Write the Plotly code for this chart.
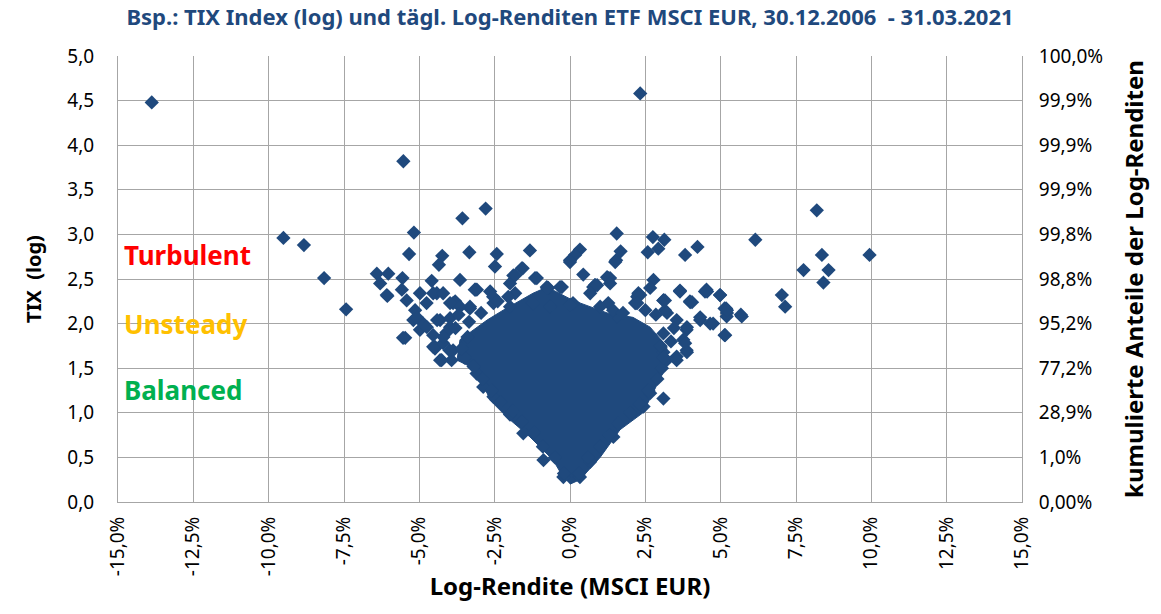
import plotly.graph_objects as go

# ---- data ----
# sparse daily observations: log-return in %, TIX (log)
obs_x = [-13.88, 2.33, -5.53, -3.57, -2.80, -5.18, -9.51, -8.83, -8.16, -7.43, -5.34, -4.24, -4.35,
         -3.34, -2.43, -2.49, -1.33, 0.33, 0.17, 0.00, 0.44, -6.41, -6.03, -6.30, -5.56, -6.06, -5.58,
         -4.59, -3.65, -3.13, -1.60, -1.16, -0.77, -0.27, -1.88,
         8.19, 6.15, 9.94, 8.36, 7.75, 8.58, 8.41, 7.03, 7.14, 1.55, 2.75, 3.13, 2.93, 2.58, 3.82, 4.23,
         1.68, 1.53, 1.27, 2.77, 2.66, 3.65, 4.53, 4.98, 3.99, 5.18, 5.67, 2.27, 2.19, 0.83,
         -5.47, -6.08, -5.42, -4.98, -4.42, -4.76, -5.14, -5.20, -4.98, -4.54, -4.48, -4.26, -3.93,
         -3.09, -3.81, -4.31, -3.98, -3.32, -2.65, -2.54, -1.99, -1.82, -1.57, -1.82, -1.10, -0.72,
         0.00, 0.83, 1.33, 1.50, 1.27, 1.55, 2.27, 2.16, 3.10, 3.65, 3.98, 4.48, 4.98, 4.32, 4.65,
         5.13, 5.20, 5.70, 5.13, 3.87, 3.76, 3.87, 3.54, 3.54, 3.10, 3.10, 3.21, 2.44, 2.66, 1.44,
         0.67, 0.33, -0.22, -0.88, -1.55, -1.99, -2.54, -2.88, -3.10, -4.31, -4.48,
         -4.54, -3.88, -3.32, -2.55, -1.99, -1.23, -0.66, 0.10, 0.67,
         -0.33, 0.77, 1.23, 1.00, 1.43, 2.23, 3.10, 3.15, 4.32, 5.21,
         -4.54, -4.87, -5.08, -4.41, -4.21, -3.16, -3.98, -3.65, -5.54, -4.75, -3.98, -4.21, -3.88,
         4.05, 4.55, 5.21, 5.15, 4.75, 3.88, 3.82, 3.88, 3.54, 3.10, 2.33, 2.23, 3.15, 3.22, 1.76,
         1.33, 0.90, 0.00, -0.76,
         -0.20, -0.50, -0.90, -1.20, -1.60, -1.90, -2.30, -2.60, -2.90, -3.20, -3.50, -3.60,
         0.30, 0.60, 1.00, 1.30, 1.60, 2.00, 2.30, 2.60, 2.90, 3.05, 3.10, 3.00,
         -4.10, -3.80, -4.00, -3.40, -3.70, -4.20, -2.95, -3.35, -2.40, -2.05, 2.85, 2.50, 3.35, 3.45]
obs_y = [4.48, 4.58, 3.82, 3.18, 3.29, 3.02, 2.96, 2.88, 2.51, 2.16, 2.78, 2.76, 2.66,
         2.80, 2.78, 2.64, 2.82, 2.83, 2.77, 2.71, 2.55, 2.56, 2.56, 2.45, 2.51, 2.31, 2.38,
         2.48, 2.49, 2.38, 2.62, 2.51, 2.41, 2.41, 2.54,
         3.27, 2.94, 2.77, 2.77, 2.60, 2.60, 2.46, 2.32, 2.19, 3.01, 2.97, 2.94, 2.84, 2.80, 2.77, 2.86,
         2.81, 2.71, 2.51, 2.49, 2.40, 2.37, 2.38, 2.32, 2.24, 2.17, 2.10, 2.32, 2.23, 2.43,
         1.84, 2.32, 2.26, 2.34, 2.34, 2.23, 2.15, 2.04, 1.93, 1.87, 1.74, 1.59, 1.59,
         2.38, 2.25, 2.04, 2.06, 2.17, 2.36, 2.23, 2.45, 2.54, 2.62, 2.34, 2.51, 2.40,
         2.69, 2.43, 2.51, 2.69, 2.23, 2.08, 2.34, 2.23, 2.26, 2.36, 2.25, 2.36, 2.32, 2.04, 2.00,
         2.17, 2.08, 2.08, 1.87, 1.93, 1.82, 1.70, 1.63, 2.04, 1.16, 1.89, 1.59, 1.07, 1.22, 0.73,
         0.45, 0.28, 0.28, 0.47, 0.77, 0.98, 1.18, 1.29, 1.44, 1.59, 1.72,
         2.34, 2.23, 2.19, 2.30, 2.19, 2.23, 2.19, 2.23, 2.34,
         2.41, 2.41, 2.52, 2.19, 2.15, 2.30, 2.26, 2.15, 2.07, 2.12,
         1.74, 2.00, 2.07, 2.04, 2.34, 2.38, 2.23, 2.19, 1.84, 1.96, 1.96, 1.78, 1.70,
         2.24, 2.36, 2.15, 1.87, 2.00, 1.96, 1.78, 1.68, 1.59, 1.68, 2.32, 2.23, 2.26, 2.12, 2.12,
         2.45, 2.43, 2.21, 2.40,
         0.32, 0.50, 0.62, 0.78, 0.90, 1.02, 1.12, 1.25, 1.38, 1.52, 1.62, 1.72,
         0.32, 0.50, 0.62, 0.75, 0.88, 1.00, 1.10, 1.25, 1.38, 1.50, 1.62, 1.75,
         1.90, 1.95, 1.70, 1.85, 2.10, 1.85, 2.12, 2.02, 2.25, 2.30, 2.10, 2.15, 1.80, 1.95]

# outline of the densely packed core of observations (thousands of overlapping points)
core_x = [0.00, 0.33, 1.00, 1.66, 2.42, 3.09, 3.22, 2.66, 2.09, 1.23, 0.10, -0.76, -1.23, -1.66,
          -2.22, -2.75, -3.65, -3.75, -3.08, -2.65, -2.09, -1.33, -0.56, -0.23]
core_y = [0.20, 0.25, 0.50, 0.81, 1.00, 1.45, 1.74, 1.96, 2.07, 2.12, 2.26, 2.41, 2.34, 2.26,
          2.15, 2.04, 1.82, 1.59, 1.48, 1.14, 0.95, 0.73, 0.47, 0.28]

x_tickvals = [-15, -12.5, -10, -7.5, -5, -2.5, 0, 2.5, 5, 7.5, 10, 12.5, 15]
x_ticktext = ["-15,0%", "-12,5%", "-10,0%", "-7,5%", "-5,0%", "-2,5%", "0,0%",
              "2,5%", "5,0%", "7,5%", "10,0%", "12,5%", "15,0%"]
y_tickvals = [0, 0.5, 1, 1.5, 2, 2.5, 3, 3.5, 4, 4.5, 5]
y_ticktext = ["0,0", "0,5", "1,0", "1,5", "2,0", "2,5", "3,0", "3,5", "4,0", "4,5", "5,0"]
y2_ticktext = ["0,00%", "1,0%", "28,9%", "77,2%", "95,2%", "98,8%", "99,8%",
               "99,9%", "99,9%", "99,9%", "100,0%"]

regimes = ["Turbulent", "Unsteady", "Balanced"]
regime_y = [2.77, 2.0, 1.26]
regime_colors = ["#FF0000", "#FFC000", "#00B050"]

BLUE = "#1F497D"
GRID = "#A6A6A6"
TICKFONT = dict(family="Noto Sans", size=19, color="#000000")
TITLEFONT = dict(family="Noto Sans", size=24, color="#000000")

fig = go.Figure()
fig.add_trace(go.Scatter(x=core_x, y=core_y, mode="lines", fill="toself",
                         fillcolor=BLUE, line=dict(color=BLUE, width=1),
                         hoverinfo="skip", showlegend=False))
fig.add_trace(go.Scatter(x=obs_x, y=obs_y, mode="markers",
                         marker=dict(symbol="diamond", size=11, color=BLUE,
                                     line=dict(width=0)),
                         showlegend=False))
# secondary axis carrier (invisible)
fig.add_trace(go.Scatter(x=[0], y=[0], yaxis="y2", mode="markers",
                         marker=dict(opacity=0), hoverinfo="skip", showlegend=False))

for name, yv, col in zip(regimes, regime_y, regime_colors):
    fig.add_annotation(x=0.004, xref="paper", y=yv, yref="y", text="<b>%s</b>" % name,
                       showarrow=False, xanchor="left", yanchor="middle",
                       font=dict(family="Noto Sans", size=26, color=col))

fig.update_layout(
    width=1161, height=614,
    margin=dict(l=118, r=139, t=56, b=112),
    paper_bgcolor="white", plot_bgcolor="white",
    title=dict(text="<b>Bsp.: TIX Index (log) und tägl. Log-Renditen ETF MSCI EUR, 30.12.2006  - 31.03.2021</b>",
               xref="paper", x=0.5, xanchor="center", y=0.972, yanchor="middle",
               font=dict(family="Noto Sans", size=22, color="#1F497D")),
    xaxis=dict(range=[-15, 15], tickvals=x_tickvals, ticktext=x_ticktext, tickangle=-90,
               showgrid=True, gridcolor=GRID, gridwidth=1, zeroline=False,
               showline=True, linecolor=GRID, linewidth=1, mirror=False,
               tickfont=TICKFONT, ticklabelstandoff=6,
               title=dict(text="<b>Log-Rendite (MSCI EUR)</b>", standoff=2, font=TITLEFONT)),
    yaxis=dict(range=[0, 5], tickvals=y_tickvals, ticktext=y_ticktext,
               showgrid=True, gridcolor=GRID, gridwidth=1, zeroline=False,
               showline=True, linecolor=GRID, linewidth=1,
               tickfont=TICKFONT, ticklabelstandoff=19,
               title=dict(text="<b>TIX  (log)</b>", standoff=20,
                          font=dict(family="Noto Sans", size=20, color="#000000"))),
    yaxis2=dict(range=[0, 5], tickvals=y_tickvals, ticktext=y2_ticktext, overlaying="y",
                side="right", showgrid=False, zeroline=False, showline=True,
                linecolor=GRID, linewidth=1, tickfont=TICKFONT, ticklabelstandoff=12,
                title=dict(text="<b>kumulierte Anteile der Log-Renditen</b>", standoff=24,
                           font=TITLEFONT)),
)

fig.write_html("out.html", config={"displayModeBar": False},
               post_script="document.body.style.margin='0px';")
